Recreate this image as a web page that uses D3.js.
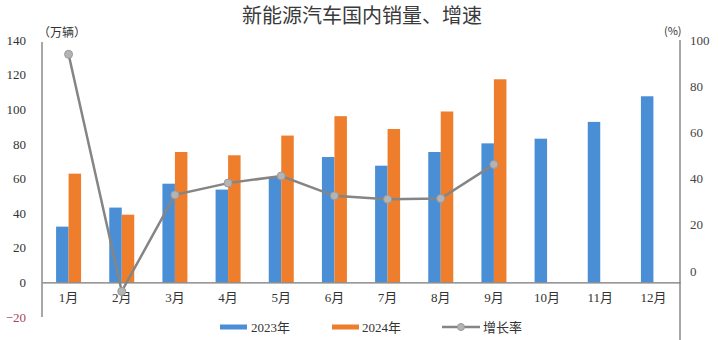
<!DOCTYPE html>
<html>
<head>
<meta charset="utf-8">
<script src="https://cdn.jsdelivr.net/npm/d3@7/dist/d3.min.js"></script>
<style>
  html, body { margin: 0; padding: 0; background: #fff; }
  svg { display: block; }
  text { font-family: "Liberation Serif", "Noto Sans CJK SC", serif; fill: #333; }
</style>
</head>
<body>
<svg id="chart" width="719" height="340"></svg>
<script>
// Monthly domestic NEV sales (10k units) and year-on-year growth (%)
const months = ["1月","2月","3月","4月","5月","6月","7月","8月","9月","10月","11月","12月"];
const sales2023 = [32.2, 43.2, 57.0, 53.6, 60.7, 72.4, 67.4, 75.3, 80.3, 83.0, 92.7, 107.5];
const sales2024 = [62.8, 39.1, 75.3, 73.4, 84.8, 96.0, 88.6, 98.7, 117.3];
const growth = [93.8, -8.9, 32.9, 38.0, 41.1, 32.5, 31.0, 31.3, 46.1];
const leftTicks = [-20, 0, 20, 40, 60, 80, 100, 120, 140];
const rightTicks = [0, 20, 40, 60, 80, 100];

const svg = d3.select("#chart");
const C_BLUE = "#4a8fd6", C_ORANGE = "#ee7d2c", C_LINE = "#858585", C_MARK = "#b4b4b4";

const x0 = 42, x1 = 680, yTop = 40, yBot = 317;
const x = d3.scaleBand().domain(months).range([x0, x1]).paddingInner(0).paddingOuter(0);
const yL = d3.scaleLinear().domain([-20, 140]).range([yBot, yTop]);
const yR = d3.scaleLinear().domain([-20, 100]).range([yBot, yTop]);
const barW = 12.5;

// Title
svg.append("text").attr("x", 362).attr("y", 23).attr("text-anchor", "middle")
  .style("font-family", "'Noto Sans CJK SC', sans-serif").style("font-size", "20px").style("fill", "#3a3a3a")
  .text("新能源汽车国内销量、增速");

// Units
svg.append("text").attr("x", 38).attr("y", 37).style("font-size", "12px")
  .style("font-family", "'Noto Sans CJK SC', sans-serif").text("（万辆）");
svg.append("text").attr("x", 664).attr("y", 35).style("font-size", "11px")
  .style("font-family", "'Noto Sans CJK SC', sans-serif").text("(%)");

// Left axis
const gL = svg.append("g").attr("transform", `translate(${x0},0)`)
  .call(d3.axisLeft(yL).tickValues(leftTicks).tickSize(0).tickPadding(16));
gL.select(".domain").attr("stroke", "#8a8a8a").attr("stroke-width", 1.5).attr("d", `M0,${yTop + 2}V${yBot}`);
gL.selectAll("text").style("font-size", "13px")
  .style("fill", d => d < 0 ? "#a4485a" : "#333");

// Right axis
const gR = svg.append("g").attr("transform", `translate(${x1},0)`)
  .call(d3.axisRight(yR).tickValues(rightTicks).tickSize(0).tickPadding(10));
gR.select(".domain").attr("stroke", "#8a8a8a").attr("stroke-width", 1.5).attr("d", `M0,${yTop}V340`);
gR.selectAll("text").style("font-size", "13px").style("fill", "#444");

// Bars
svg.append("g").selectAll("rect").data(sales2023).join("rect")
  .attr("x", (d, i) => x(months[i]) + x.bandwidth() / 2 - barW)
  .attr("y", d => yL(d)).attr("width", barW).attr("height", d => yL(0) - yL(d))
  .attr("fill", C_BLUE);
svg.append("g").selectAll("rect").data(sales2024).join("rect")
  .attr("x", (d, i) => x(months[i]) + x.bandwidth() / 2)
  .attr("y", d => yL(d)).attr("width", barW).attr("height", d => yL(0) - yL(d))
  .attr("fill", C_ORANGE);

// Category axis along zero
const gX = svg.append("g").attr("transform", `translate(0,${yL(0)})`)
  .call(d3.axisBottom(x).tickSize(0).tickPadding(10));
gX.select(".domain").attr("stroke", "#777").attr("stroke-width", 1.3);
gX.selectAll("text").style("font-size", "13px").style("fill", "#333");

// Growth line
const cx = i => x(months[i]) + x.bandwidth() / 2;
const line = d3.line().x((d, i) => cx(i)).y(d => yR(d));
svg.append("path").datum(growth).attr("d", line)
  .attr("fill", "none").attr("stroke", C_LINE).attr("stroke-width", 2.5);
svg.append("g").selectAll("circle").data(growth).join("circle")
  .attr("cx", (d, i) => cx(i)).attr("cy", d => yR(d)).attr("r", 4)
  .attr("fill", C_MARK).attr("stroke", "#9a9a9a").attr("stroke-width", 1);

// Legend
const lg = svg.append("g").attr("transform", "translate(0,327)");
lg.append("rect").attr("x", 220).attr("y", -2.5).attr("width", 27).attr("height", 5).attr("fill", C_BLUE);
lg.append("text").attr("x", 251).attr("y", 5).style("font-size", "13px").text("2023年");
lg.append("rect").attr("x", 332).attr("y", -2.5).attr("width", 27).attr("height", 5).attr("fill", C_ORANGE);
lg.append("text").attr("x", 362).attr("y", 5).style("font-size", "13px").text("2024年");
lg.append("line").attr("x1", 442).attr("x2", 480).attr("y1", 0).attr("y2", 0).attr("stroke", C_LINE).attr("stroke-width", 2.5);
lg.append("circle").attr("cx", 461).attr("cy", 0).attr("r", 3.5).attr("fill", C_MARK).attr("stroke", "#9a9a9a");
lg.append("text").attr("x", 483).attr("y", 5).style("font-size", "13px")
  .style("font-family", "'Noto Sans CJK SC', sans-serif").text("增长率");
</script>
</body>
</html>
